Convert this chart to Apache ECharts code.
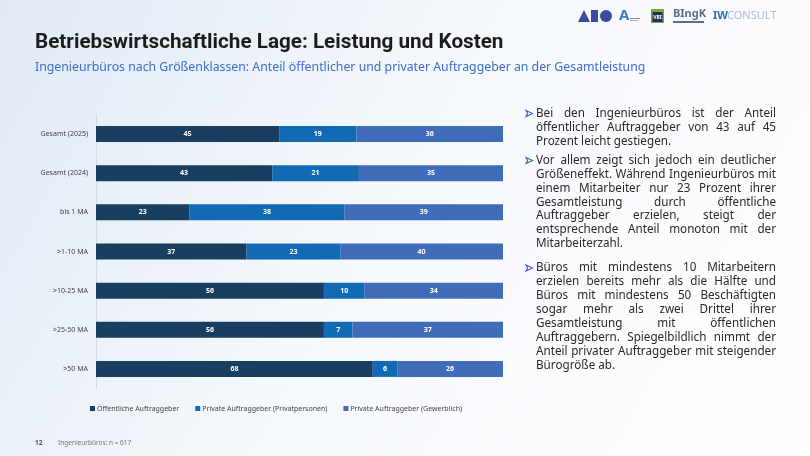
<!DOCTYPE html>
<html><head><meta charset="utf-8">
<script src="https://cdn.jsdelivr.net/npm/echarts@6/dist/echarts.min.js"></script>
<style>html,body{margin:0;padding:0;background:#fff;}#c{width:810px;height:456px;}</style>
</head><body><div id="c"></div>
<script>
// ---- data ----
const categories = ['Gesamt (2025)', 'Gesamt (2024)', 'bis 1 MA', '>1-10 MA', '>10-25 MA', '>25-50 MA', '>50 MA'];
const seriesNames = ['Öffentliche Auftraggeber', 'Private Auftraggeber (Privatpersonen)', 'Private Auftraggeber (Gewerblich)'];
const oeffentlich = [45, 43.3, 23, 37, 56, 56, 68];
const privatPersonen = [19, 21.3, 38, 23, 10, 7, 6];
const privatGewerblich = [36, 35.4, 39, 40, 34, 37, 26];
const titleText = 'Betriebswirtschaftliche Lage: Leistung und Kosten';
const subtitleText = 'Ingenieurbüros nach Größenklassen: Anteil öffentlicher und privater Auftraggeber an der Gesamtleistung';
const footNumber = '12';
const footNote = 'Ingenieurbüros: n = 617';
const bullets = [
  ['Bei den Ingenieurbüros ist der Anteil', 'öffentlicher Auftraggeber von 43 auf 45', 'Prozent leicht gestiegen.'],
  ['Vor allem zeigt sich jedoch ein deutlicher', 'Größeneffekt. Während Ingenieurbüros mit', 'einem Mitarbeiter nur 23 Prozent ihrer', 'Gesamtleistung durch öffentliche', 'Auftraggeber erzielen, steigt der', 'entsprechende Anteil monoton mit der', 'Mitarbeiterzahl.'],
  ['Büros mit mindestens 10 Mitarbeitern', 'erzielen bereits mehr als die Hälfte und', 'Büros mit mindestens 50 Beschäftigten', 'sogar mehr als zwei Drittel ihrer', 'Gesamtleistung mit öffentlichen', 'Auftraggebern. Spiegelbildlich nimmt der', 'Anteil privater Auftraggeber mit steigender', 'Bürogröße ab.']
];

// ---- styles ----
const colors = ['#183f5f', '#136ab4', '#406cb9'];
const bodyFont = 'Noto Sans';

const chart = echarts.init(document.getElementById('c'), null, {renderer: 'canvas'});

// justified paragraph text: font size chosen so the longest line fits the column
const textLeft = 536, textRight = 776, lineH = 13.9;
const mc = document.createElement('canvas').getContext('2d');
mc.font = '10px "' + bodyFont + '"';
let maxW = 0;
bullets.forEach(lines => lines.forEach(l => { maxW = Math.max(maxW, mc.measureText(l).width); }));
const bodySize = Math.min(12, 10 * (textRight - textLeft - 1) / maxW);
mc.font = bodySize + 'px "' + bodyFont + '"';
const bodyFontStr = bodySize + 'px "' + bodyFont + '"';

const bulletTops = [113.5, 160.5, 268];
const graphics = [];
bullets.forEach((lines, bi) => {
  const y0 = bulletTops[bi];
  graphics.push({
    type: 'polygon', silent: true,
    shape: {points: [[526, y0 - 3], [532.5, y0], [526, y0 + 3], [527.6, y0]]},
    style: {fill: '#fff', stroke: '#3b5fc0', lineWidth: 1.1}
  });
  lines.forEach((ln, li) => {
    const y = y0 + li * lineH;
    const words = ln.split(' ');
    const last = li === lines.length - 1;
    let x = textLeft;
    let gap = mc.measureText(' ').width;
    if (!last && words.length > 1) {
      const tw = words.reduce((s, w) => s + mc.measureText(w).width, 0);
      gap = (textRight - textLeft - tw) / (words.length - 1);
    }
    words.forEach(w => {
      graphics.push({
        type: 'text', silent: true, x: x, y: y,
        style: {text: w, font: bodyFontStr, fill: '#2a2a2a', verticalAlign: 'middle', align: 'left'}
      });
      x += mc.measureText(w).width + gap;
    });
  });
});

const bgGraphic = {
  type: 'rect', z: -10, silent: true,
  shape: {x: 0, y: 0, width: 810, height: 456},
  style: {
    fill: new echarts.graphic.LinearGradient(0, 0, 1, 1, [
      {offset: 0, color: '#e0e9f5'},
      {offset: 0.45, color: '#f5f8fc'},
      {offset: 1, color: '#ffffff'}
    ])
  }
};

const logoGraphics = [
  {type: 'polygon', shape: {points: [[578, 22], [584, 10], [590, 22]]}, style: {fill: '#3b4a9c'}},
  {type: 'rect', shape: {x: 591, y: 10, width: 7, height: 12}, style: {fill: '#3b4a9c'}},
  {type: 'circle', shape: {cx: 606, cy: 16, r: 6}, style: {fill: '#3b4a9c'}},
  {type: 'text', x: 619, y: 16, style: {text: 'A', font: 'bold 15px "Noto Sans"', fill: '#3d7cc4', verticalAlign: 'middle'}},
  {type: 'rect', shape: {x: 630, y: 18, width: 10, height: 1}, style: {fill: '#888'}},
  {type: 'rect', shape: {x: 630, y: 20, width: 8, height: 1}, style: {fill: '#aaa'}},
  {type: 'rect', shape: {x: 651, y: 9, width: 13, height: 14}, style: {fill: '#7aa83a'}},
  {type: 'rect', shape: {x: 652.5, y: 12, width: 10, height: 10}, style: {fill: '#1f3060'}},
  {type: 'text', x: 657.5, y: 17.5, style: {text: 'VBI', font: 'bold 5px "Noto Sans"', fill: '#fff', align: 'center', verticalAlign: 'middle'}},
  {type: 'text', x: 673, y: 14, style: {text: 'BIngK', font: 'bold 11px "Noto Sans"', fill: '#5a6d8a', verticalAlign: 'middle'}},
  {type: 'rect', shape: {x: 673, y: 21, width: 31, height: 2}, style: {fill: '#5a6d8a'}},
  {type: 'text', x: 713, y: 16, style: {text: 'IW', font: 'bold 11px "Noto Sans"', fill: '#2f6db5', verticalAlign: 'middle'}},
  {type: 'text', x: 727, y: 16, style: {text: 'CONSULT', font: '11px "Noto Sans"', fill: '#a9bdd6', verticalAlign: 'middle'}}
].map(g => Object.assign({silent: true}, g));

const textGraphics = [
  {type: 'text', x: 35, y: 43, style: {text: titleText, font: 'bold 20.7px "Roboto"', fill: '#1c1c1c', verticalAlign: 'middle'}},
  {type: 'text', x: 35, y: 67, style: {text: subtitleText, font: '12.3px "Noto Sans"', fill: '#3b6fc6', verticalAlign: 'middle'}},
  {type: 'text', x: 35, y: 443, style: {text: footNumber, font: 'bold 6.5px "Noto Sans"', fill: '#555', verticalAlign: 'middle'}},
  {type: 'text', x: 58, y: 443, style: {text: footNote, font: '6.5px "Noto Sans"', fill: '#777', verticalAlign: 'middle'}}
].map(g => Object.assign({silent: true}, g));

const dataArrays = [oeffentlich, privatPersonen, privatGewerblich];

chart.setOption({
  animation: false,
  color: colors,
  graphic: [bgGraphic].concat(logoGraphics, textGraphics, graphics),
  legend: {
    left: 85, top: 400,
    itemWidth: 5, itemHeight: 5, itemGap: 16,
    icon: 'rect',
    textStyle: {fontSize: 7, color: '#444', fontFamily: 'Noto Sans', padding: [0, 0, 0, -3]},
    data: seriesNames
  },
  grid: {left: 96, right: 307, top: 114.5, bottom: 67.5, containLabel: false},
  xAxis: {
    type: 'value', min: 0, max: 100,
    show: false
  },
  yAxis: {
    type: 'category', inverse: true, data: categories,
    axisLine: {show: true, lineStyle: {color: '#d6d9de', width: 1}},
    axisTick: {show: false},
    axisLabel: {fontSize: 7, color: '#444', fontFamily: 'Noto Sans', margin: 8}
  },
  series: seriesNames.map((n, i) => ({
    name: n, type: 'bar', stack: 'total', barWidth: 16,
    data: dataArrays[i],
    itemStyle: {color: colors[i]},
    label: {
      show: true, position: 'inside', color: '#fff', fontSize: 7, fontWeight: 'bold', fontFamily: 'Noto Sans',
      formatter: p => Math.round(p.value)
    }
  }))
});
</script></body></html>
